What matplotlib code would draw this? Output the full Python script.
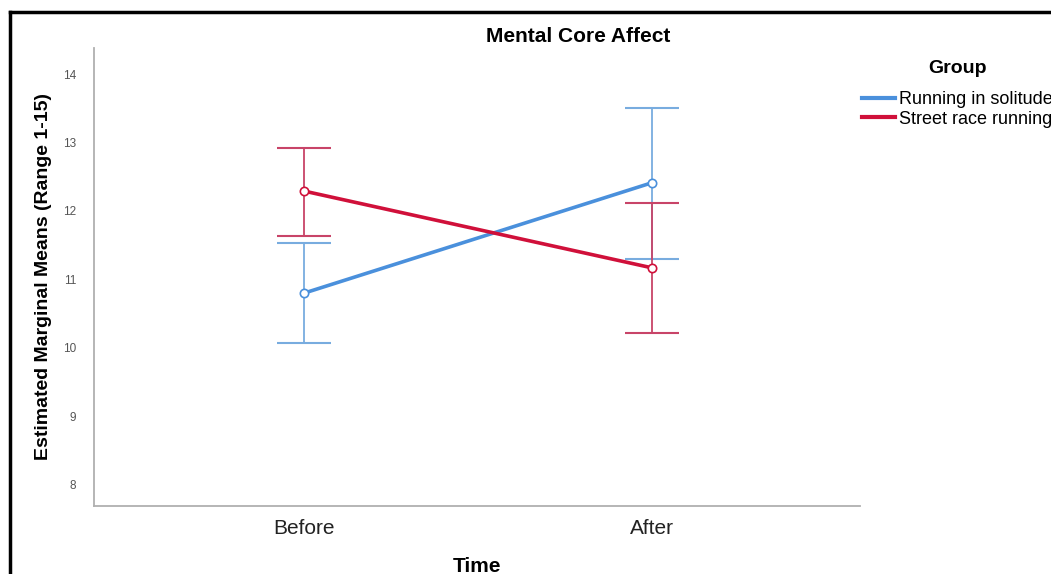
import matplotlib.pyplot as plt
from matplotlib.lines import Line2D

# Estimated marginal means with 95% CI bounds
times = ["Before", "After"]
groups = ["Running in solitude", "Street race running"]
means = {
    "Running in solitude": [10.80, 12.41],
    "Street race running": [12.29, 11.17],
}
ci_low = {
    "Running in solitude": [10.07, 11.30],
    "Street race running": [11.64, 10.22],
}
ci_high = {
    "Running in solitude": [11.53, 13.50],
    "Street race running": [12.92, 12.12],
}
yticks = [8, 9, 10, 11, 12, 13, 14]

line_colors = {"Running in solitude": "#4a90dc", "Street race running": "#d0103a"}
err_colors = {"Running in solitude": "#78acdf", "Street race running": "#c84468"}

plt.rcParams["font.family"] = ["Liberation Sans", "DejaVu Sans"]

fig = plt.figure(figsize=(10.51, 5.74), dpi=100)
ax = fig.add_axes([94 / 1051, 1 - 506 / 574, (860 - 94) / 1051, (506 - 48) / 574])

x = list(range(len(times)))
for g in groups:
    lo = [m - l for m, l in zip(means[g], ci_low[g])]
    hi = [h - m for m, h in zip(means[g], ci_high[g])]
    ax.errorbar(x, means[g], yerr=[lo, hi], fmt="none", ecolor=err_colors[g],
                elinewidth=1.3, capsize=19.5, capthick=1.5, zorder=2)
    ax.plot(x, means[g], color=line_colors[g], lw=2.6, marker="o", ms=6,
            mfc="white", mec=line_colors[g], mew=1.2, zorder=3, label=g)

ax.set_xlim(-0.605, 1.60)
ax.set_ylim(7.69, 14.38)
ax.set_xticks(x)
ax.set_xticklabels(times, fontsize=15, color="#222222")
ax.set_yticks(yticks)
ax.set_yticklabels([str(t) for t in yticks], fontsize=8.5, color="#555555")
ax.tick_params(length=0)
ax.tick_params(axis="y", pad=13)
ax.tick_params(axis="x", pad=9)
for s in ["top", "right"]:
    ax.spines[s].set_visible(False)
for s in ["left", "bottom"]:
    ax.spines[s].set_color("#b0b0b0")
    ax.spines[s].set_linewidth(1.3)

fig.text(578 / 1051, 1 - 37 / 574, "Mental Core Affect", fontsize=15,
         fontweight="bold", ha="center", va="center")
ax.set_xlabel("Time", fontsize=15, fontweight="bold", labelpad=14)
ax.set_ylabel("Estimated Marginal Means (Range 1-15)", fontsize=14,
              fontweight="bold", labelpad=8)

handles = [Line2D([0], [0], color=line_colors[g], lw=3) for g in groups]
leg = fig.legend(handles, groups, title="Group", loc="upper left",
                 bbox_to_anchor=(862 / 1051, 1 - 60 / 574), frameon=False,
                 fontsize=13, title_fontproperties={"weight": "bold", "size": 14},
                 handlelength=1.8, handletextpad=0.25, labelspacing=0.15,
                 borderaxespad=0, borderpad=0)
leg._legend_box.sep = 10

# picture border (top and left edges)
fig.add_artist(Line2D([10 / 1051, 1], [1 - 12 / 574] * 2, color="black", lw=2.5,
                      transform=fig.transFigure))
fig.add_artist(Line2D([10 / 1051] * 2, [0, 1 - 12 / 574], color="black", lw=2.5,
                      transform=fig.transFigure))

fig.savefig("out.png", dpi=100)
